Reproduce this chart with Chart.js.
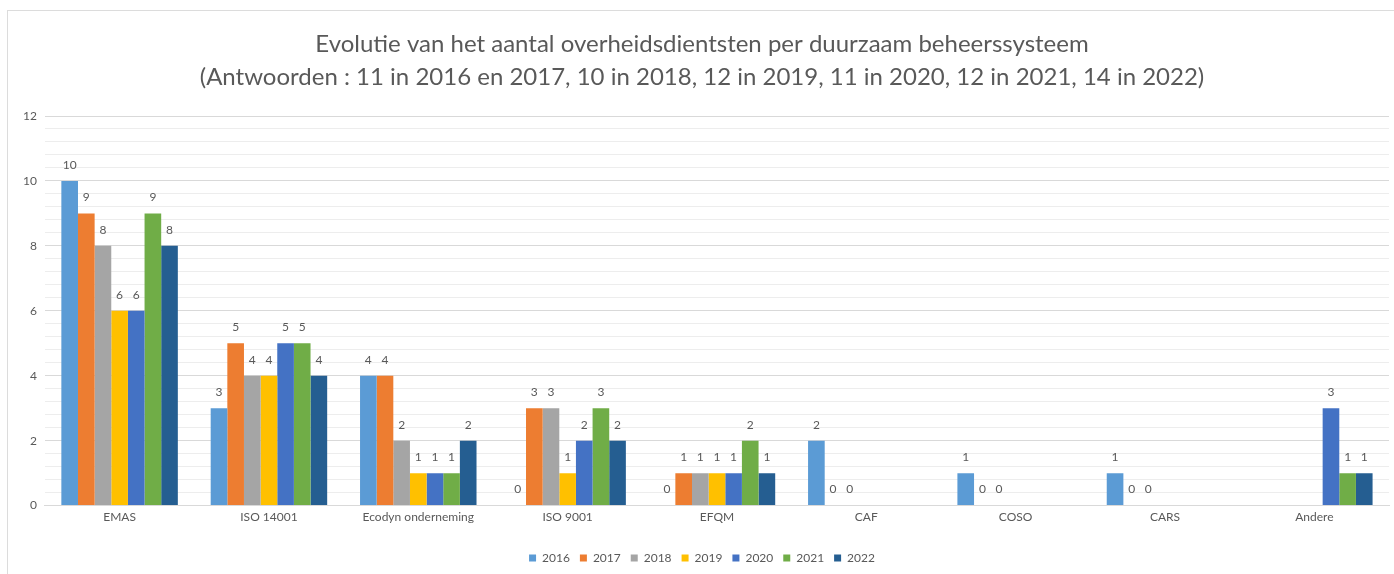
<!DOCTYPE html>
<html lang="nl">
<head>
  <meta charset="UTF-8" />
  <title>Evolutie duurzame beheerssystemen</title>
  <script src="https://cdn.jsdelivr.net/npm/chart.js"></script>
  <style>
    body {
      margin: 0;
      padding: 0;
      background: #fff;
    }
    /* thin frame like the original screenshot */
    .frame {
      position: absolute;
      left: 7px;
      top: 10px;
      width: 1387px;
      height: 564px;
      border-left: 1px solid #dcdcdc;
      border-top: 1px solid #dcdcdc;
    }
  </style>
</head>
<body>
  <div class="frame">
    <canvas id="mgmtChart"></canvas>
  </div>
  <script>
    // Categories and answers per year
    const categories = ['EMAS', 'ISO 14001', 'Ecodyn onderneming', 'ISO 9001', 'EFQM', 'CAF', 'COSO', 'CARS', 'Andere'];
    const years = ['2016', '2017', '2018', '2019', '2020', '2021', '2022'];
    const v2016 = [10, 3, 4, 0, 0, 2, 1, 1, null];
    const v2017 = [9, 5, 4, 3, 1, 0, 0, 0, null];
    const v2018 = [8, 4, 2, 3, 1, 0, 0, 0, null];
    const v2019 = [6, 4, 1, 1, 1, null, null, null, null];
    const v2020 = [6, 5, 1, 2, 1, null, null, null, 3];
    const v2021 = [9, 5, 1, 3, 2, null, null, null, 1];
    const v2022 = [8, 4, 2, 2, 1, null, null, null, 1];
    const colors = ['#5B9BD5', '#ED7D31', '#A5A5A5', '#FFC000', '#4472C4', '#70AD47', '#255E91'];

    const series = [v2016, v2017, v2018, v2019, v2020, v2021, v2022];
    const textColor = '#595959';
    const font = 'Lato, "Noto Sans", sans-serif';

    // Draw the value above every bar
    const valueLabels = {
      id: 'valueLabels',
      afterDatasetsDraw(chart) {
        const ctx = chart.ctx;
        ctx.save();
        ctx.font = '12px ' + font;
        ctx.fillStyle = textColor;
        ctx.textAlign = 'center';
        ctx.textBaseline = 'middle';
        chart.data.datasets.forEach((ds, i) => {
          const meta = chart.getDatasetMeta(i);
          meta.data.forEach((bar, j) => {
            const v = ds.data[j];
            if (v === null || v === undefined) return;
            ctx.fillText(String(v), bar.x, bar.y - 16);
          });
        });
        ctx.restore();
      }
    };

    const isMajor = v => {
      const r = Math.round(v);
      return Math.abs(v - r) < 1e-6 && r % 2 === 0;
    };

    const ctx = document.getElementById('mgmtChart').getContext('2d');
    new Chart(ctx, {
      type: 'bar',
      data: {
        labels: categories,
        datasets: years.map((y, i) => ({
          label: y,
          data: series[i],
          backgroundColor: colors[i],
          categoryPercentage: 0.78,
          barPercentage: 1.0
        }))
      },
      options: {
        responsive: true,
        maintainAspectRatio: false,
        animation: false,
        layout: {
          padding: { left: 7, right: 6, top: 0, bottom: 1 }
        },
        plugins: {
          title: {
            display: true,
            text: [
              'Evolutie van het aantal overheidsdientsten per duurzaam beheerssysteem',
              '(Antwoorden : 11 in 2016 en 2017, 10 in 2018, 12 in 2019, 11 in 2020, 12 in 2021, 14 in 2022)'
            ],
            color: textColor,
            font: { family: font, size: 24, weight: 'normal', lineHeight: 1.375 },
            padding: { top: 17, bottom: 22 }
          },
          legend: {
            position: 'bottom',
            labels: {
              boxWidth: 7,
              boxHeight: 7,
              padding: 10,
              color: textColor,
              font: { family: font, size: 12 }
            }
          },
          tooltip: { enabled: false }
        },
        scales: {
          x: {
            grid: { display: false, drawTicks: false },
            border: { color: '#d9d9d9' },
            ticks: {
              color: textColor,
              padding: 4,
              font: { family: font, size: 12 }
            },
            afterFit(scale) {
              scale.height += 14;
            }
          },
          y: {
            min: 0,
            max: 12,
            border: { display: false },
            grid: {
              drawTicks: false,
              color: c => (c.tick && isMajor(c.tick.value)) ? '#d9d9d9' : '#ededed'
            },
            ticks: {
              stepSize: 0.4,
              autoSkip: false,
              maxTicksLimit: 100,
              padding: 8,
              color: textColor,
              font: { family: font, size: 12 },
              callback: v => isMajor(v) ? String(Math.round(v)) : ''
            }
          }
        }
      },
      plugins: [valueLabels]
    });
  </script>
</body>
</html>
